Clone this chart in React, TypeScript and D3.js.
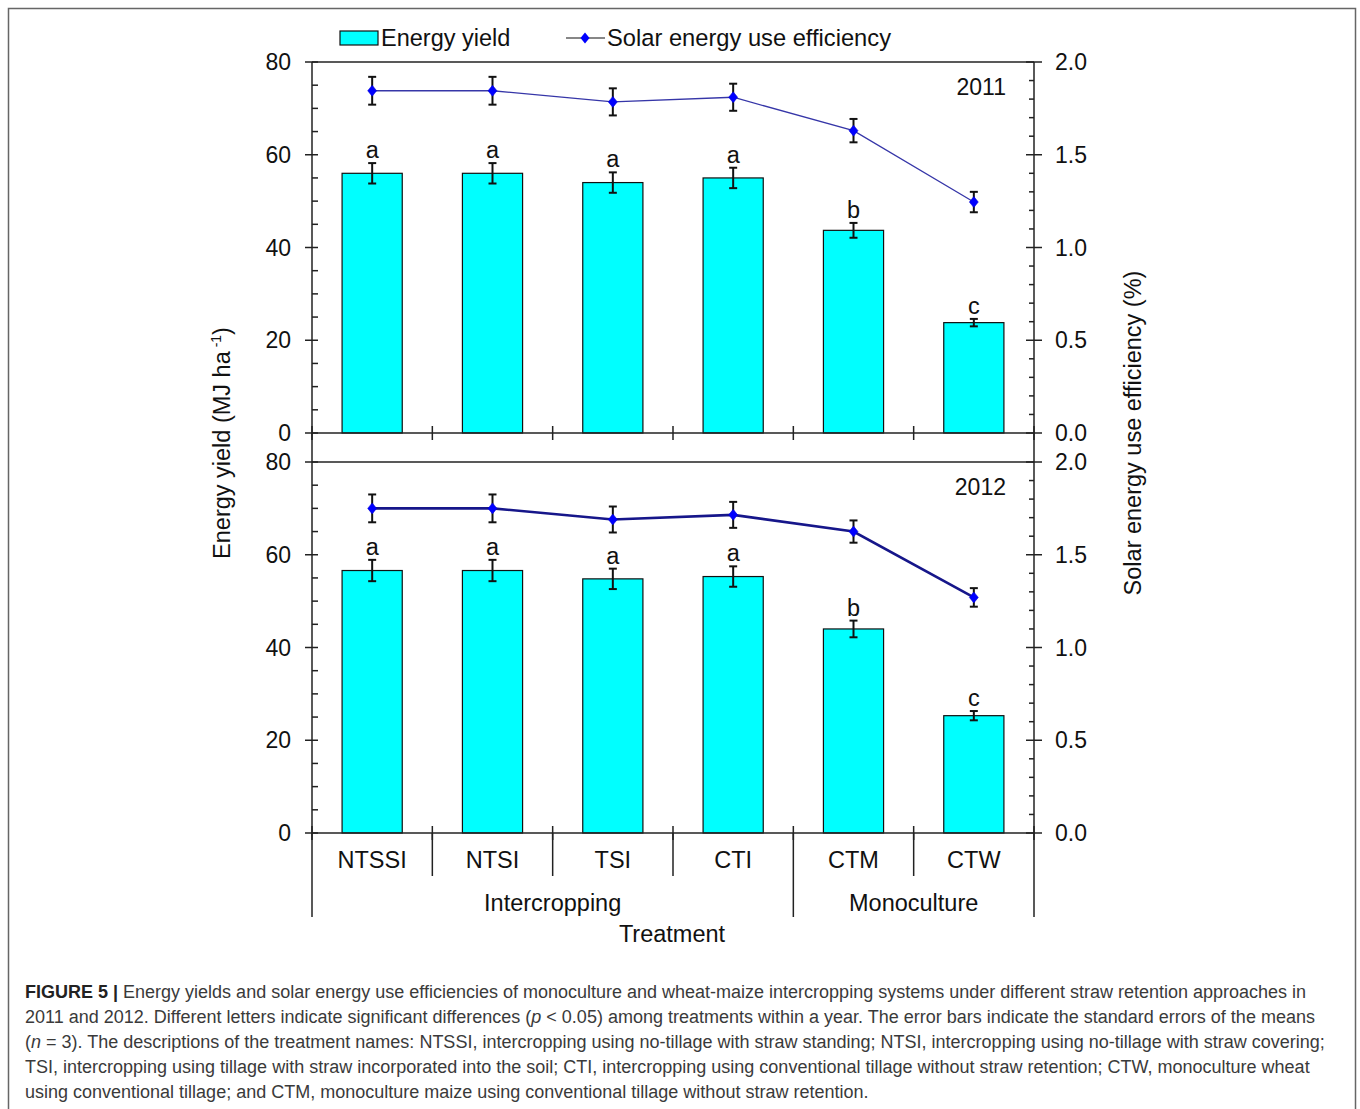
import React from 'react';
import * as d3 from 'd3';

const categories = ['NTSSI', 'NTSI', 'TSI', 'CTI', 'CTM', 'CTW'];
const groupNames = ['Intercropping', 'Monoculture'];
const groupFirst = [0, 4];
const groupLast = [3, 5];

const yield2011 = [56, 56, 54, 55, 43.7, 23.8];
const yieldErr2011 = [2.2, 2.2, 2.2, 2.2, 1.6, 0.8];
const eff2011 = [1.845, 1.845, 1.785, 1.81, 1.63, 1.245];
const effErr2011 = [0.075, 0.075, 0.073, 0.073, 0.063, 0.055];
const letters2011 = ['a', 'a', 'a', 'a', 'b', 'c'];

const yield2012 = [56.6, 56.6, 54.8, 55.3, 44, 25.3];
const yieldErr2012 = [2.3, 2.3, 2.2, 2.2, 1.8, 1.0];
const eff2012 = [1.75, 1.75, 1.69, 1.715, 1.625, 1.27];
const effErr2012 = [0.075, 0.075, 0.07, 0.07, 0.06, 0.05];
const letters2012 = ['a', 'a', 'a', 'a', 'b', 'c'];

const leftTicks = [0, 20, 40, 60, 80];
const rightTicks = [0, 0.5, 1.0, 1.5, 2.0];

const captionLines = [
  'Energy yields and solar energy use efficiencies of monoculture and wheat-maize intercropping systems under different straw retention approaches in',
  '2011 and 2012. Different letters indicate significant differences (p < 0.05) among treatments within a year. The error bars indicate the standard errors of the means',
  '(n = 3). The descriptions of the treatment names: NTSSI, intercropping using no-tillage with straw standing; NTSI, intercropping using no-tillage with straw covering;',
  'TSI, intercropping using tillage with straw incorporated into the soil; CTI, intercropping using conventional tillage without straw retention; CTW, monoculture wheat',
  'using conventional tillage; and CTM, monoculture maize using conventional tillage without straw retention.',
];

const FONT = '"Liberation Sans", Arial, sans-serif';
const X0 = 312;
const X1 = 1034;

type PanelProps = {
  top: number;
  bottom: number;
  yields: number[];
  yieldErr: number[];
  eff: number[];
  effErr: number[];
  letters: string[];
  year: string;
  lineColor: string;
  lineWidth: number;
};

const x = d3.scaleBand<string>().domain(categories).range([X0, X1]).paddingInner(0.5).paddingOuter(0.25);
const step = x.step();

function Panel(p: PanelProps) {
  const y = d3.scaleLinear().domain([0, 80]).range([p.bottom, p.top]);
  const yr = d3.scaleLinear().domain([0, 2]).range([p.bottom, p.top]);
  const cx = (c: string) => (x(c) as number) + x.bandwidth() / 2;
  const line = d3
    .line<number>()
    .x((_, i) => cx(categories[i]))
    .y((d) => yr(d));
  const minorL = d3.range(0, 81, 5).filter((v) => v % 20 !== 0);
  const minorR = d3.range(0, 21, 1).map((v) => v / 10).filter((v) => Math.round(v * 10) % 5 !== 0);
  const diamond = (px: number, py: number) =>
    `M${px},${py - 5.5}L${px + 4.5},${py}L${px},${py + 5.5}L${px - 4.5},${py}Z`;
  return (
    <g>
      {categories.map((c, i) => (
        <rect
          key={'b' + c}
          x={x(c)}
          y={y(p.yields[i])}
          width={x.bandwidth()}
          height={y(0) - y(p.yields[i])}
          fill="#00FFFF"
          stroke="#111"
          strokeWidth={1.2}
        />
      ))}
      {categories.map((c, i) => {
        const px = cx(c);
        const t = y(p.yields[i] + p.yieldErr[i]);
        const b = y(p.yields[i] - p.yieldErr[i]);
        return (
          <g key={'e' + c} stroke="#111" strokeWidth={2}>
            <line x1={px} x2={px} y1={t} y2={b} />
            <line x1={px - 4} x2={px + 4} y1={t} y2={t} />
            <line x1={px - 4} x2={px + 4} y1={b} y2={b} />
          </g>
        );
      })}
      {categories.map((c, i) => (
        <text
          key={'l' + c}
          x={cx(c)}
          y={y(p.yields[i] + p.yieldErr[i]) - 5}
          textAnchor="middle"
          fontFamily={FONT}
          fontSize={23.5}
          fill="#111"
        >
          {p.letters[i]}
        </text>
      ))}
      <path d={line(p.eff) as string} fill="none" stroke={p.lineColor} strokeWidth={p.lineWidth} />
      {categories.map((c, i) => {
        const px = cx(c);
        const t = yr(p.eff[i] + p.effErr[i]);
        const b = yr(p.eff[i] - p.effErr[i]);
        return (
          <g key={'le' + c}>
            <g stroke="#111" strokeWidth={2}>
              <line x1={px} x2={px} y1={t} y2={b} />
              <line x1={px - 4} x2={px + 4} y1={t} y2={t} />
              <line x1={px - 4} x2={px + 4} y1={b} y2={b} />
            </g>
            <path d={diamond(px, yr(p.eff[i]))} fill="#0000FF" stroke="#0000CC" strokeWidth={0.5} />
          </g>
        );
      })}
      <g stroke="#222" strokeWidth={1.5} fill="none">
        <line x1={X0} x2={X1} y1={p.top} y2={p.top} />
        <line x1={X0} x2={X1} y1={p.bottom} y2={p.bottom} />
        <line x1={X0} x2={X0} y1={p.top} y2={p.bottom} />
        <line x1={X1} x2={X1} y1={p.top} y2={p.bottom} />
        {leftTicks.map((v) => (
          <line key={'lt' + v} x1={X0 - 7} x2={X0 + 6} y1={y(v)} y2={y(v)} />
        ))}
        {minorL.map((v) => (
          <line key={'lm' + v} x1={X0} x2={X0 + 6} y1={y(v)} y2={y(v)} />
        ))}
        {rightTicks.map((v) => (
          <line key={'rt' + v} x1={X1 - 8} x2={X1 + 8} y1={yr(v)} y2={yr(v)} />
        ))}
        {minorR.map((v) => (
          <line key={'rm' + v} x1={X1 - 5} x2={X1} y1={yr(v)} y2={yr(v)} />
        ))}
        {d3.range(0, categories.length + 1).map((k) => (
          <line key={'xt' + k} x1={X0 + k * step} x2={X0 + k * step} y1={p.bottom - 7} y2={p.bottom + 7} />
        ))}
      </g>
      {leftTicks.map((v) => (
        <text key={'ll' + v} x={291} y={y(v) + 8} textAnchor="end" fontFamily={FONT} fontSize={23} fill="#111">
          {v}
        </text>
      ))}
      {rightTicks.map((v) => (
        <text key={'rl' + v} x={1055} y={yr(v) + 8} textAnchor="start" fontFamily={FONT} fontSize={23} fill="#111">
          {v.toFixed(1)}
        </text>
      ))}
      <text x={1006} y={p.top + 33} textAnchor="end" fontFamily={FONT} fontSize={23} fill="#111">
        {p.year}
      </text>
    </g>
  );
}

export default function App() {
  const bottomY = 833;
  const cx = (c: string) => (x(c) as number) + x.bandwidth() / 2;
  return (
    <svg
      width={1360}
      height={1109}
      style={{ position: 'absolute', left: 0, top: 0, background: '#fff' }}
      xmlns="http://www.w3.org/2000/svg"
    >
      <rect x={0} y={0} width={1360} height={1109} fill="#fff" />
      <rect x={8.5} y={8.5} width={1347} height={1130} fill="none" stroke="#666" strokeWidth={1.5} />

      <rect x={340} y={31} width={38} height={14} fill="#00FFFF" stroke="#111" strokeWidth={1.2} />
      <text x={381} y={46} fontFamily={FONT} fontSize={23.5} fill="#111">
        Energy yield
      </text>
      <line x1={566} x2={605} y1={38} y2={38} stroke="#111" strokeWidth={1.2} />
      <path d="M585,32.5L589.5,38L585,43.5L580.5,38Z" fill="#0000FF" />
      <text x={607} y={46} fontFamily={FONT} fontSize={23.7} fill="#111">
        Solar energy use efficiency
      </text>

      <Panel
        top={62}
        bottom={433}
        yields={yield2011}
        yieldErr={yieldErr2011}
        eff={eff2011}
        effErr={effErr2011}
        letters={letters2011}
        year="2011"
        lineColor="#3636A8"
        lineWidth={1.3}
      />
      <Panel
        top={462}
        bottom={833}
        yields={yield2012}
        yieldErr={yieldErr2012}
        eff={eff2012}
        effErr={effErr2012}
        letters={letters2012}
        year="2012"
        lineColor="#16168A"
        lineWidth={2.6}
      />

      <g stroke="#222" strokeWidth={1.5}>
        <line x1={X0} x2={X0} y1={433} y2={462} />
        <line x1={X1} x2={X1} y1={433} y2={462} />
        {d3.range(1, categories.length).map((k) => {
          const isGroup = groupFirst.includes(k);
          return (
            <line
              key={'sep' + k}
              x1={X0 + k * step}
              x2={X0 + k * step}
              y1={bottomY}
              y2={isGroup ? 917 : 876}
            />
          );
        })}
        <line x1={X0} x2={X0} y1={bottomY} y2={917} />
        <line x1={X1} x2={X1} y1={bottomY} y2={917} />
      </g>

      {categories.map((c) => (
        <text key={'cat' + c} x={cx(c)} y={868} textAnchor="middle" fontFamily={FONT} fontSize={23.5} fill="#111">
          {c}
        </text>
      ))}
      {groupNames.map((g, i) => {
        const a = x(categories[groupFirst[i]]) as number;
        const b = (x(categories[groupLast[i]]) as number) + x.bandwidth();
        const left = groupFirst[i] === 0 ? X0 : a - (step - x.bandwidth()) / 2;
        const right = groupLast[i] === categories.length - 1 ? X1 : b + (step - x.bandwidth()) / 2;
        return (
          <text key={g} x={(left + right) / 2} y={911} textAnchor="middle" fontFamily={FONT} fontSize={23.5} fill="#111">
            {g}
          </text>
        );
      })}
      <text x={672} y={942} textAnchor="middle" fontFamily={FONT} fontSize={23.5} fill="#111">
        Treatment
      </text>

      <text
        transform="translate(230,443) rotate(-90)"
        textAnchor="middle"
        fontFamily={FONT}
        fontSize={23.5}
        fill="#111"
      >
        Energy yield (MJ ha
        <tspan fontSize={14} dy={-9}> -1</tspan>
        <tspan dy={9}>)</tspan>
      </text>
      <text
        transform="translate(1141,433) rotate(-90)"
        textAnchor="middle"
        fontFamily={FONT}
        fontSize={23.5}
        fill="#111"
      >
        Solar energy use efficiency (%)
      </text>

      <g fontFamily={FONT} fontSize={18} fill="#3a3a3a">
        {captionLines.map((ln, i) => {
          if (i === 0) {
            return (
              <text key={i} x={25} y={998 + i * 25}>
                <tspan fontWeight="bold" fill="#222">FIGURE 5 | </tspan>
                {ln}
              </text>
            );
          }
          if (i === 1) {
            const [pre, post] = ln.split('(p');
            return (
              <text key={i} x={25} y={998 + i * 25}>
                {pre}(<tspan fontStyle="italic">p</tspan>
                {post}
              </text>
            );
          }
          if (i === 2) {
            return (
              <text key={i} x={25} y={998 + i * 25}>
                (<tspan fontStyle="italic">n</tspan>
                {ln.slice(2)}
              </text>
            );
          }
          return (
            <text key={i} x={25} y={998 + i * 25}>
              {ln}
            </text>
          );
        })}
      </g>
    </svg>
  );
}
